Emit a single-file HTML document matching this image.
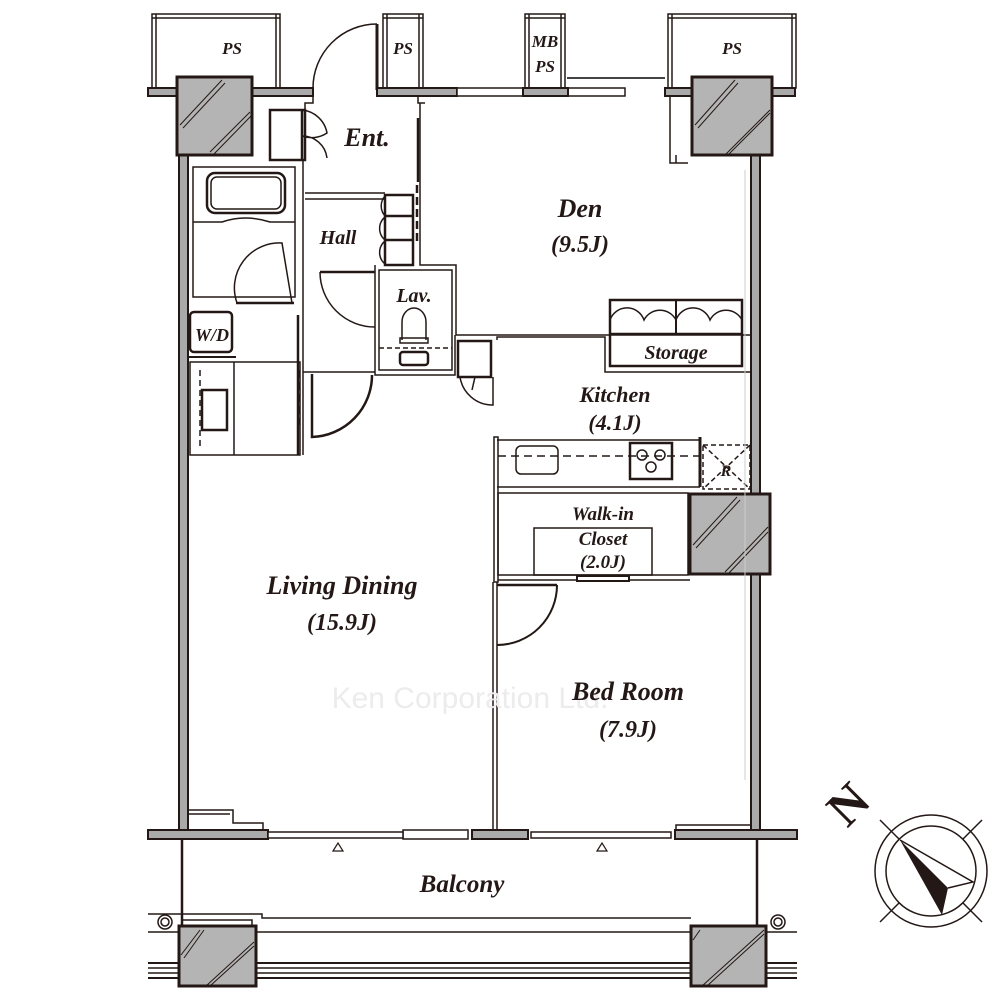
<!DOCTYPE html>
<html><head><meta charset="utf-8"><style>
html,body{margin:0;padding:0;background:#fff}
svg{display:block}
text{font-family:"Liberation Serif",serif;font-style:italic;font-weight:bold;fill:#231815;text-anchor:middle}
</style></head><body>
<svg width="1000" height="1000" viewBox="0 0 1000 1000" xmlns="http://www.w3.org/2000/svg">
<g fill="none" stroke="#231815" stroke-width="1.5">
<rect x="152" y="14" width="128" height="74"/><line x1="152" y1="18" x2="280" y2="18"/><line x1="156" y1="14" x2="156" y2="88"/><line x1="276" y1="14" x2="276" y2="88"/>
<rect x="383" y="14" width="40" height="74"/><line x1="383" y1="18" x2="423" y2="18"/><line x1="387" y1="14" x2="387" y2="88"/><line x1="419" y1="14" x2="419" y2="88"/>
<rect x="525" y="14" width="40" height="74"/><line x1="525" y1="18" x2="565" y2="18"/><line x1="529" y1="14" x2="529" y2="88"/><line x1="561" y1="14" x2="561" y2="88"/>
<rect x="668" y="14" width="128" height="74"/><line x1="668" y1="18" x2="796" y2="18"/><line x1="672" y1="14" x2="672" y2="88"/><line x1="792" y1="14" x2="792" y2="88"/>
<path d="M313 88 A64 64 0 0 1 377 24" /><line x1="377" y1="24" x2="377" y2="90" stroke-width="3"/>
</g>
<rect x="148" y="88" width="165" height="8" fill="#aaa" stroke="#231815" stroke-width="2"/>
<rect x="377" y="88" width="80" height="8" fill="#aaa" stroke="#231815" stroke-width="2"/>
<rect x="457" y="88" width="168" height="8" fill="#fff" stroke="#231815" stroke-width="1.5"/>
<rect x="523" y="88" width="45" height="8" fill="#aaa" stroke="#231815" stroke-width="2"/>
<rect x="665" y="88" width="130" height="8" fill="#aaa" stroke="#231815" stroke-width="2"/>
<line x1="567" y1="78" x2="665" y2="78" stroke="#444" stroke-width="2"/>
<rect x="179" y="155" width="9" height="676" fill="#aaa" stroke="#231815" stroke-width="2"/>
<rect x="751" y="155" width="9" height="676" fill="#aaa" stroke="#231815" stroke-width="2"/>
<rect x="148" y="830" width="120" height="9" fill="#aaa" stroke="#231815" stroke-width="2"/>
<rect x="403" y="830" width="65" height="9" fill="#fff" stroke="#231815" stroke-width="1.5"/>
<rect x="268" y="832" width="135" height="6" fill="#fff" stroke="#231815" stroke-width="1.5"/>
<rect x="472" y="830" width="56" height="9" fill="#aaa" stroke="#231815" stroke-width="2"/>
<rect x="531" y="832" width="140" height="6" fill="#fff" stroke="#231815" stroke-width="1.5"/>
<rect x="675" y="830" width="122" height="9" fill="#aaa" stroke="#231815" stroke-width="2"/>
<g fill="none" stroke="#231815" stroke-width="1.5">
<line x1="182" y1="839" x2="182" y2="926" stroke-width="2.5"/>
<line x1="757" y1="839" x2="757" y2="926" stroke-width="2.5"/>
<polyline points="148,914 262,914 262,918 691,918"/>
<polyline points="182,920 252,920 252,926"/>
<line x1="148" y1="932" x2="797" y2="932"/>
<line x1="148" y1="963" x2="797" y2="963" stroke-width="2"/>
<line x1="148" y1="968" x2="797" y2="968"/>
<line x1="148" y1="973" x2="797" y2="973"/>
<line x1="148" y1="978" x2="797" y2="978" stroke-width="2"/>
<circle cx="165" cy="922" r="7"/><circle cx="165" cy="922" r="4"/>
<circle cx="778" cy="922" r="7"/><circle cx="778" cy="922" r="4"/>
<path d="M333 851 L338 843 L343 851 Z" stroke-width="1.2"/><path d="M597 851 L602 843 L607 851 Z" stroke-width="1.2"/>
<polyline points="188,810 233,810 233,823 263,823 263,830"/>
<polyline points="188,814 230,814"/>
<polyline points="676,830 676,825 750,825"/>
</g>
<g fill="#b4b4b4" stroke="#231815" stroke-width="3">
<rect x="177" y="77" width="75" height="78"/>
<rect x="692" y="77" width="80" height="78"/>
<rect x="690" y="494" width="80" height="80"/>
<rect x="179" y="926" width="77" height="60"/>
<rect x="691" y="926" width="75" height="60"/>
</g>
<g stroke="#231815" stroke-width="1">
<line x1="180" y1="125" x2="222" y2="80"/><line x1="183" y1="128" x2="225" y2="83"/>
<line x1="210" y1="152" x2="250" y2="112"/><line x1="213" y1="155" x2="252" y2="115"/>
<line x1="695" y1="125" x2="735" y2="80"/><line x1="698" y1="128" x2="738" y2="83"/>
<line x1="725" y1="155" x2="770" y2="110"/><line x1="728" y1="155" x2="770" y2="113"/>
<line x1="693" y1="545" x2="737" y2="497"/><line x1="696" y1="548" x2="740" y2="500"/>
<line x1="725" y1="572" x2="768" y2="527"/><line x1="728" y1="574" x2="768" y2="532"/>
<line x1="181" y1="955" x2="200" y2="930"/><line x1="184" y1="958" x2="204" y2="930"/>
<line x1="206" y1="986" x2="254" y2="942"/><line x1="210" y1="986" x2="254" y2="946"/>
<line x1="693" y1="940" x2="700" y2="930"/>
<line x1="702" y1="986" x2="764" y2="930"/><line x1="707" y1="986" x2="764" y2="934"/>
</g>
<g fill="none" stroke="#231815" stroke-width="1.5">
<polyline points="313,96 313,103 305,103 305,160"/>
<rect x="270" y="110" width="35" height="50" stroke-width="2.5"/>
<line x1="302" y1="110" x2="302" y2="160" stroke-width="2.5"/>
<path d="M302 110 A28 28 0 0 1 327 133 A28 28 0 0 1 302 136 M302 136 A25 25 0 0 1 327 158"/>
<polyline points="418,96 418,103 425,103"/>
<line x1="418" y1="118" x2="418" y2="182" stroke-width="2.5"/>
<line x1="417" y1="185" x2="417" y2="245" stroke-dasharray="8 4" stroke-width="2.5"/>
<polyline points="420,103 420,265 456,265 456,335 750,335"/>
<rect x="193" y="167" width="102" height="130"/>
<rect x="207" y="173" width="78" height="40" rx="8" stroke-width="2.5"/><rect x="211" y="177" width="70" height="32" rx="6"/>
<path d="M193 222 L222 222 Q245 214 270 222 L295 222"/>
<path d="M237 303 A45 45 0 0 1 282 243 L292 303"/><line x1="236" y1="303" x2="294" y2="303" stroke-width="2.5"/>
<line x1="303" y1="160" x2="303" y2="455"/>
<line x1="305" y1="193" x2="385" y2="193"/><line x1="305" y1="199" x2="385" y2="199"/>
<rect x="385" y="195" width="28" height="70" stroke-width="2.5"/><line x1="385" y1="216" x2="413" y2="216" stroke-width="2.5"/><line x1="385" y1="240" x2="413" y2="240" stroke-width="2.5"/>
<path d="M385 196 A15 15 0 0 0 385 216 M385 217 A15 15 0 0 0 385 240 M385 241 A15 15 0 0 0 385 264"/>
<polyline points="375,265 375,375 455,375 455,335"/>
<rect x="379" y="270" width="73" height="100"/>
<path d="M320 272 A55 55 0 0 0 375 327"/><line x1="320" y1="272" x2="375" y2="272" stroke-width="2.5"/>
<path d="M402 340 L402 322 A12 14 0 0 1 426 322 L426 340"/><rect x="400" y="338" width="28" height="5"/><rect x="400" y="352" width="28" height="13" rx="3" stroke-width="2.5"/>
<line x1="379" y1="348" x2="452" y2="348" stroke-dasharray="5 3"/>
<rect x="190" y="312" width="42" height="40" rx="4" stroke-width="2.5"/>
<line x1="188" y1="357" x2="236" y2="357" stroke-width="2"/>
<rect x="190" y="362" width="110" height="93"/><line x1="234" y1="362" x2="234" y2="455"/>
<rect x="202" y="390" width="25" height="40" stroke-width="2.5"/>
<line x1="200" y1="370" x2="200" y2="450" stroke-dasharray="6 4"/>
<line x1="298" y1="315" x2="298" y2="455" stroke-width="2.5"/>
<line x1="299" y1="370" x2="299" y2="425" stroke-dasharray="8 4" stroke-width="2.5"/>
<polyline points="303,372 375,372"/>
<path d="M312 374 L312 437 A62 62 0 0 0 372 375" stroke-width="2.5"/>
<rect x="458" y="341" width="33" height="36" stroke-width="2.5"/>
<path d="M460 377 A33 33 0 0 0 493 405 L493 377"/><line x1="472" y1="390" x2="475" y2="377"/>
<polyline points="497,340 497,337 605,337 605,372 750,372"/>
<rect x="610" y="300" width="132" height="66" stroke-width="2.5"/><line x1="610" y1="334" x2="742" y2="334" stroke-width="2.5"/><line x1="676" y1="300" x2="676" y2="334" stroke-width="2"/>
<path d="M610 334 L610 320 A18 18 0 0 1 644 320 A18 18 0 0 1 676 320 A18 18 0 0 1 710 320 A18 18 0 0 1 742 320"/>
<rect x="494" y="437" width="4" height="145"/>
<line x1="497" y1="440" x2="700" y2="440"/><line x1="497" y1="487" x2="700" y2="487"/><line x1="700" y1="437" x2="700" y2="487" stroke-width="3"/>
<line x1="498" y1="456" x2="700" y2="456" stroke-dasharray="8 5"/>
<rect x="516" y="446" width="42" height="28" rx="5"/>
<rect x="630" y="443" width="42" height="36" stroke-width="2.5"/><circle cx="642" cy="455" r="5"/><circle cx="660" cy="455" r="5"/><circle cx="651" cy="467" r="5"/>
<rect x="703" y="445" width="47" height="44" stroke-dasharray="5 3"/><path d="M703 445 L750 489 M750 445 L703 489" stroke-dasharray="5 3"/>
<rect x="498" y="493" width="190" height="82"/><rect x="534" y="528" width="118" height="47"/>
<line x1="498" y1="580" x2="690" y2="580"/><rect x="577" y="576" width="52" height="5" fill="#fff" stroke-width="2"/>
<line x1="493" y1="582" x2="493" y2="830"/><line x1="497" y1="582" x2="497" y2="830"/>
<path d="M557 585 A60 60 0 0 1 497 645" stroke-width="2"/><line x1="497" y1="585" x2="557" y2="585" stroke-width="2.5"/>
<polyline points="670,96 670,163 688,163"/><polyline points="676,155 676,163"/>
<line x1="745" y1="170" x2="745" y2="780" stroke="#ccc" stroke-width="1"/>
</g>
<text x="232" y="54" font-size="17">PS</text>
<text x="403" y="54" font-size="17">PS</text>
<text x="545" y="47" font-size="17">MB</text>
<text x="545" y="72" font-size="17">PS</text>
<text x="732" y="54" font-size="17">PS</text>
<text x="367" y="146" font-size="26">Ent.</text>
<text x="338" y="244" font-size="20">Hall</text>
<text x="580" y="217" font-size="26">Den</text>
<text x="580" y="252" font-size="24">(9.5J)</text>
<text x="414" y="302" font-size="20">Lav.</text>
<text x="212" y="341" font-size="18">W/D</text>
<text x="676" y="359" font-size="20">Storage</text>
<text x="615" y="402" font-size="22">Kitchen</text>
<text x="615" y="430" font-size="22">(4.1J)</text>
<text x="726" y="476" font-size="16">R</text>
<text x="603" y="520" font-size="19">Walk-in</text>
<text x="603" y="545" font-size="19">Closet</text>
<text x="603" y="568" font-size="19">(2.0J)</text>
<text x="470" y="708" font-size="30" style="font-family:'Liberation Sans',sans-serif;font-style:normal;font-weight:normal;fill:#ececec">Ken Corporation Ltd.</text>
<text x="342" y="594" font-size="26">Living Dining</text>
<text x="342" y="630" font-size="24">(15.9J)</text>
<text x="628" y="700" font-size="26">Bed Room</text>
<text x="628" y="737" font-size="24">(7.9J)</text>
<text x="462" y="892" font-size="25">Balcony</text>
<text x="0" y="0" font-size="50" transform="translate(860,816) rotate(-45)" style="font-style:normal">N</text>
<g fill="none" stroke="#231815" stroke-width="1.5">
<circle cx="931" cy="871" r="56"/><circle cx="931" cy="871" r="45"/>
<line x1="880" y1="820" x2="899" y2="839"/><line x1="963" y1="903" x2="982" y2="922"/>
<line x1="982" y1="820" x2="963" y2="839"/><line x1="880" y1="922" x2="899" y2="903"/>
<polyline points="900,840 973,882 948,888"/>
</g>
<path d="M900 840 L948 888 L942 915 Z" fill="#231815"/>
</svg>
</body></html>
